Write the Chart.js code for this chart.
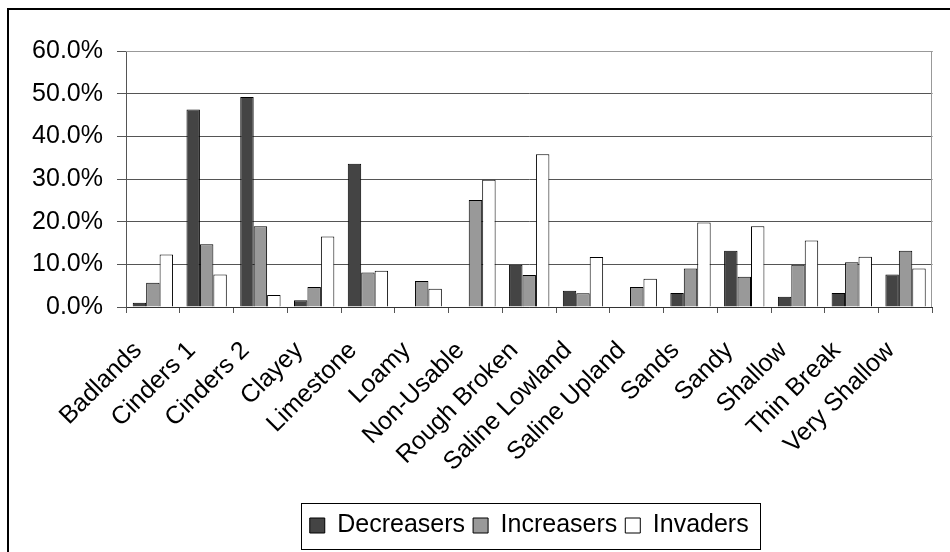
<!DOCTYPE html>
<html>
<head>
<meta charset="utf-8">
<script src="https://cdn.jsdelivr.net/npm/chart.js@4.4.1/dist/chart.umd.min.js"></script>
<style>
  html, body { margin: 0; padding: 0; background: #fff; }
  canvas { display: block; }
</style>
</head>
<body>
<canvas id="siteChart" width="950" height="552"></canvas>
<script>
// Range site groups
const categories = ['Badlands', 'Cinders 1', 'Cinders 2', 'Clayey', 'Limestone', 'Loamy', 'Non-Usable',
    'Rough Broken', 'Saline Lowland', 'Saline Upland', 'Sands', 'Sandy', 'Shallow', 'Thin Break', 'Very Shallow'];

// Percent of composition per plant response group
const decreasers = [1.0, 46.3, 49.2, 1.6, 33.6, 0, 0, 9.9, 3.8, 0, 3.3, 13.2, 2.4, 3.3, 7.6];
const increasers = [5.7, 14.7, 18.9, 4.7, 8.1, 6.1, 25.1, 7.5, 3.2, 4.7, 9.0, 7.1, 9.9, 10.5, 13.2];
const invaders = [12.3, 7.6, 2.8, 16.5, 8.5, 4.3, 29.8, 35.8, 11.7, 6.6, 19.8, 18.9, 15.6, 11.8, 9.0];

const yTickValues = [0, 10, 20, 30, 40, 50, 60];

const FONT = { family: 'Liberation Sans, Arial, sans-serif', size: 25 };

// outer frame + plot area top/right edge + border round the legend
const framePlugin = {
    id: 'frame',
    afterDraw(chart) {
        const ctx = chart.ctx;
        const area = chart.chartArea;
        ctx.save();
        ctx.strokeStyle = '#999';
        ctx.lineWidth = 1;
        ctx.beginPath();
        ctx.moveTo(area.left, Math.round(area.top) + 0.5);
        ctx.lineTo(area.right, Math.round(area.top) + 0.5);
        ctx.moveTo(Math.round(area.right) - 0.5, area.top);
        ctx.lineTo(Math.round(area.right) - 0.5, area.bottom);
        ctx.stroke();

        const boxes = chart.legend.legendHitBoxes;
        if (boxes && boxes.length) {
            const left = Math.min(...boxes.map(b => b.left)) - 9;
            const right = Math.max(...boxes.map(b => b.left + b.width)) + 11;
            const mid = boxes[0].top + boxes[0].height / 2;
            ctx.strokeStyle = '#000';
            ctx.strokeRect(Math.round(left) + 0.5, Math.round(mid - 23) + 0.5, Math.round(right - left), 46);
        }

        ctx.strokeStyle = '#000';
        ctx.lineWidth = 2;
        ctx.beginPath();
        ctx.moveTo(8, chart.height);
        ctx.lineTo(8, 9);
        ctx.lineTo(chart.width, 9);
        ctx.stroke();
        ctx.restore();
    }
};

new Chart(document.getElementById('siteChart'), {
    type: 'bar',
    data: {
        labels: categories,
        datasets: [
            { label: 'Decreasers', data: decreasers, backgroundColor: '#444444', borderColor: '#000', borderWidth: 1 },
            { label: 'Increasers', data: increasers, backgroundColor: '#999999', borderColor: '#000', borderWidth: 1 },
            { label: 'Invaders', data: invaders, backgroundColor: '#ffffff', borderColor: '#000', borderWidth: 1 }
        ]
    },
    options: {
        responsive: false,
        animation: false,
        layout: { padding: { left: 0, top: 51, right: 7, bottom: 4 } },
        datasets: { bar: { categoryPercentage: 0.75, barPercentage: 1.0 } },
        scales: {
            x: {
                grid: { offset: true, drawOnChartArea: false, tickLength: 6, color: '#555' },
                border: { color: '#333' },
                ticks: { font: FONT, color: '#000', minRotation: 45, maxRotation: 45, autoSkip: false, padding: 23, labelOffset: -15 },
                afterFit(scale) { scale.height = 198; }
            },
            y: {
                min: 0,
                max: 60,
                afterBuildTicks(scale) { scale.ticks = yTickValues.map(v => ({ value: v })); },
                grid: { color: '#555', tickLength: 9 },
                border: { color: '#555' },
                ticks: { font: FONT, color: '#000', padding: 14, callback: v => v.toFixed(1) + '%' },
                afterFit(scale) { scale.width = 126; }
            }
        },
        plugins: {
            legend: {
                position: 'bottom',
                fullSize: false,
                labels: { font: FONT, color: '#000', boxWidth: 15, boxHeight: 15, padding: 8 }
            },
            tooltip: { enabled: false }
        }
    },
    plugins: [framePlugin]
});
</script>
</body>
</html>
